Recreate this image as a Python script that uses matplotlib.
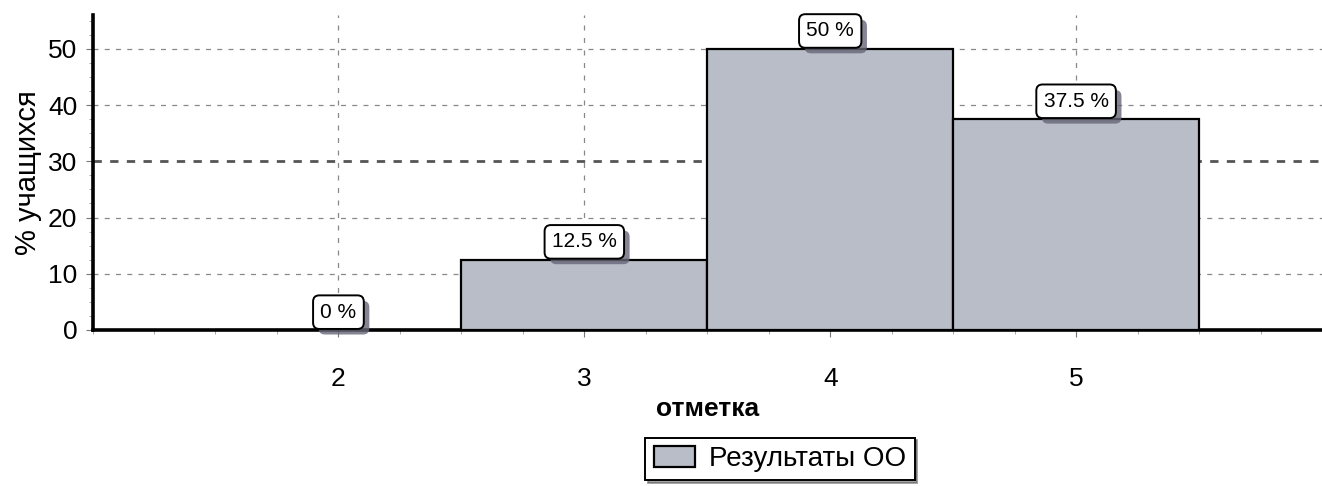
import numpy as np
import matplotlib
matplotlib.use('Agg')
import matplotlib.pyplot as plt
import matplotlib.patheffects as pe
from matplotlib.ticker import MultipleLocator

plt.rcParams['font.family'] = ['Liberation Sans', 'DejaVu Sans']

# данные
marks = [2, 3, 4, 5]
percent = [0, 12.5, 50, 37.5]
labels = ['0 %', '12.5 %', '50 %', '37.5 %']
series_name = 'Результаты ОО'

bar_color = '#b9bdc7'

fig = plt.figure(figsize=(13.22, 4.86), dpi=100)
ax = fig.add_axes([0.070, 0.321, 0.930, 0.648])

ax.bar(marks, percent, width=1.0, color=bar_color, edgecolor='black',
       linewidth=1.6, label=series_name, zorder=3)

ax.set_xlim(1, 6)
ax.set_ylim(0, 56)
ax.set_xticks(marks)
ax.set_yticks([0, 10, 20, 30, 40, 50])
ax.xaxis.set_minor_locator(MultipleLocator(0.25))
ax.yaxis.set_minor_locator(MultipleLocator(2.5))
ax.tick_params(axis='both', which='major', labelsize=19, length=5, color='#777777')
ax.tick_params(axis='both', which='minor', length=3, color='#999999')
ax.tick_params(axis='x', pad=22)
ax.tick_params(axis='y', pad=6)

# сетка
for y in [10, 20, 40, 50]:
    ax.axhline(y, color='#888888', linestyle=(0, (4, 5)), linewidth=0.9, zorder=1)
ax.axhline(30, color='#555555', linestyle=(0, (3, 3)), linewidth=2.0, zorder=1)
for x in marks:
    ax.axvline(x, color='#888888', linestyle=(0, (4, 6)), linewidth=0.9, zorder=1)

for s in ['top', 'right']:
    ax.spines[s].set_visible(False)
ax.spines['left'].set_linewidth(2.6)
ax.spines['bottom'].set_linewidth(2.6)

ax.set_ylabel('% учащихся', fontsize=21, labelpad=4)
ax.set_xlabel('отметка', fontsize=19, fontweight='bold', labelpad=4)

# подписи значений
for x, v, t in zip(marks, percent, labels):
    txt = ax.annotate(t, (x, v), xytext=(0, 6), textcoords='offset points',
                      ha='center', va='bottom', fontsize=15, zorder=5,
                      bbox=dict(boxstyle='round,pad=0.35,rounding_size=0.3',
                                fc='white', ec='black', lw=1.4))
    txt.get_bbox_patch().set_path_effects(
        [pe.SimplePatchShadow(offset=(4, -4), shadow_rgbFace='#666677', alpha=0.8),
         pe.Normal()])

leg = fig.legend(loc='center', bbox_to_anchor=(780 / 1322, 1 - 459 / 486),
                 fontsize=20, frameon=True, fancybox=False, shadow=True,
                 handlelength=1.5, handleheight=0.8, handletextpad=0.5,
                 borderpad=0.3)
leg.get_frame().set_edgecolor('black')
leg.get_frame().set_linewidth(1.4)

fig.savefig('out.png', dpi=100)
